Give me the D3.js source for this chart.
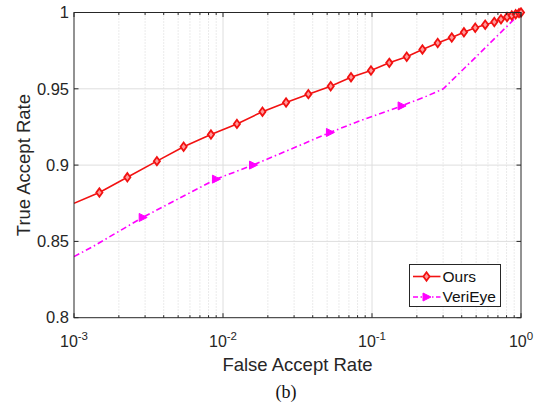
<!DOCTYPE html>
<html>
<head>
<meta charset="utf-8">
<script src="https://cdn.jsdelivr.net/npm/d3@7"></script>
<style>
  body { margin: 0; background: #fff; }
  svg { display: block; font-family: Arial, "Liberation Sans", sans-serif; }
</style>
</head>
<body>
<div id="chart"></div>
<script>
// ROC curves: false accept rate vs. true accept rate
const oursFar = [1e-3, 1.48e-3, 2.28e-3, 3.6e-3, 5.44e-3, 8.3e-3, 1.24e-2, 1.84e-2, 2.65e-2,
  3.74e-2, 5.28e-2, 7.23e-2, 9.84e-2, 0.1306, 0.171, 0.218, 0.276, 0.343, 0.414, 0.493,
  0.575, 0.662, 0.734, 0.806, 0.867, 0.921, 0.97, 1.0]
const oursTar = [0.875, 0.882, 0.892, 0.9026, 0.912, 0.920, 0.927, 0.935, 0.941,
  0.9465, 0.9517, 0.9576, 0.962, 0.967, 0.971, 0.9758, 0.980, 0.9836, 0.987, 0.990,
  0.992, 0.9938, 0.9956, 0.997, 0.998, 0.9989, 0.9996, 1.0]

const veriFar = [1e-3, 1.36e-3, 2.89e-3, 8.97e-3, 1.59e-2, 3.29e-2, 5.22e-2, 8.3e-2, 0.158, 0.233, 0.301, 0.5, 1.0]
const veriTar = [0.840, 0.847, 0.8657, 0.8908, 0.900, 0.913, 0.9214, 0.929, 0.9388, 0.9452, 0.950, 0.971, 1.0]
const veriMarkers = [2, 3, 4, 6, 8]

const xTickExps = [-3, -2, -1, 0]
const yTicks = [0.8, 0.85, 0.9, 0.95, 1]
const yTickLabels = ['0.8', '0.85', '0.9', '0.95', '1']

const W = 540, H = 408
const margin = { left: 74, top: 12.5, right: 19, bottom: 90.3 }
const axisColor = '#262626'
const red = '#f21212', magenta = '#ff00ff'

const svg = d3.select('#chart').append('svg').attr('width', W).attr('height', H)

const x = d3.scaleLog().domain([1e-3, 1]).range([margin.left, W - margin.right])
const y = d3.scaleLinear().domain([0.8, 1]).range([H - margin.bottom, margin.top])
const [x0, x1] = x.range()
const [yb, yt] = y.range()

// grid
const minor = x.ticks().filter(v => !xTickExps.some(e => Math.abs(v - Math.pow(10, e)) < 1e-12))
const grid = svg.append('g')
grid.selectAll('line.minor').data(minor).join('line')
  .attr('x1', d => x(d)).attr('x2', d => x(d)).attr('y1', yt).attr('y2', yb)
  .attr('stroke', '#d6d6d6').attr('stroke-width', 1).attr('stroke-dasharray', '1,2')
grid.selectAll('line.xmaj').data(xTickExps.slice(1, -1)).join('line')
  .attr('x1', d => x(Math.pow(10, d))).attr('x2', d => x(Math.pow(10, d)))
  .attr('y1', yt).attr('y2', yb).attr('stroke', '#dedede')
grid.selectAll('line.ymaj').data(yTicks.slice(1, -1)).join('line')
  .attr('x1', x0).attr('x2', x1).attr('y1', d => y(d)).attr('y2', d => y(d))
  .attr('stroke', '#dedede')

// curves
svg.append('clipPath').attr('id', 'clip').append('rect')
  .attr('x', x0).attr('y', yt - 6).attr('width', x1 - x0 + 6).attr('height', yb - yt + 6)
const plot = svg.append('g').attr('clip-path', 'url(#clip)')

const line = d3.line().x(d => x(d[0])).y(d => y(d[1]))
const ours = oursFar.map((f, i) => [f, oursTar[i]])
const veri = veriFar.map((f, i) => [f, veriTar[i]])

plot.append('path').datum(veri).attr('d', line)
  .attr('fill', 'none').attr('stroke', magenta).attr('stroke-width', 1.6)
  .attr('stroke-dasharray', '6,3,1.5,3')
plot.append('path').datum(ours).attr('d', line)
  .attr('fill', 'none').attr('stroke', red).attr('stroke-width', 1.6)

const diamond = 'M0,-4.2L3.1,0L0,4.2L-3.1,0Z'
const triangle = 'M4.5,0L-3.5,-4L-3.5,4Z'

plot.selectAll('path.ours').data(ours.slice(1)).join('path')
  .attr('d', diamond)
  .attr('transform', d => `translate(${x(d[0])},${y(d[1])})`)
  .attr('fill', '#ff9a9a').attr('stroke', red).attr('stroke-width', 1.8)
plot.selectAll('path.veri').data(veriMarkers.map(i => veri[i])).join('path')
  .attr('d', triangle)
  .attr('transform', d => `translate(${x(d[0])},${y(d[1])})`)
  .attr('fill', magenta).attr('stroke', magenta).attr('stroke-width', 1)

// axes box and ticks
const tk = 4.5
const axes = svg.append('g').attr('stroke', axisColor).attr('stroke-width', 1)
axes.append('rect').attr('x', x0).attr('y', yt).attr('width', x1 - x0).attr('height', yb - yt)
  .attr('fill', 'none')
axes.selectAll('line.xt').data(xTickExps.map(e => Math.pow(10, e))).join('line')
  .attr('x1', d => x(d)).attr('x2', d => x(d)).attr('y1', yb).attr('y2', yb - tk)
axes.selectAll('line.xtt').data(xTickExps.map(e => Math.pow(10, e))).join('line')
  .attr('x1', d => x(d)).attr('x2', d => x(d)).attr('y1', yt).attr('y2', yt + tk)
axes.selectAll('line.xm').data(minor).join('line')
  .attr('x1', d => x(d)).attr('x2', d => x(d)).attr('y1', yb).attr('y2', yb - 2.5)
axes.selectAll('line.xmt').data(minor).join('line')
  .attr('x1', d => x(d)).attr('x2', d => x(d)).attr('y1', yt).attr('y2', yt + 2.5)
axes.selectAll('line.yt').data(yTicks).join('line')
  .attr('x1', x0).attr('x2', x0 + tk).attr('y1', d => y(d)).attr('y2', d => y(d))
axes.selectAll('line.ytr').data(yTicks).join('line')
  .attr('x1', x1).attr('x2', x1 - tk).attr('y1', d => y(d)).attr('y2', d => y(d))

// tick labels
svg.selectAll('text.ytl').data(yTicks).join('text')
  .attr('x', x0 - 5).attr('y', d => y(d)).attr('dy', '0.35em')
  .attr('text-anchor', 'end').attr('font-size', 16.5).attr('fill', axisColor)
  .text((d, i) => yTickLabels[i])

const xl = svg.selectAll('text.xtl').data(xTickExps).join('text')
  .attr('x', d => x(Math.pow(10, d))).attr('y', yb + 29)
  .attr('text-anchor', 'middle').attr('font-size', 16).attr('fill', axisColor)
xl.append('tspan').text('10')
xl.append('tspan').attr('dy', -7).attr('font-size', 11.5).text(d => String(d))

// axis titles
svg.append('text').attr('x', (x0 + x1) / 2).attr('y', yb + 53)
  .attr('text-anchor', 'middle').attr('font-size', 18.5).attr('fill', axisColor)
  .text('False Accept Rate')
svg.append('text').attr('transform', `translate(30,${(yt + yb) / 2}) rotate(-90)`)
  .attr('text-anchor', 'middle').attr('font-size', 18.5).attr('fill', axisColor)
  .text('True Accept Rate')

// legend
const lg = svg.append('g').attr('transform', 'translate(409.5,264.5)')
lg.append('rect').attr('width', 91).attr('height', 42)
  .attr('fill', '#fff').attr('stroke', axisColor).attr('stroke-width', 1)
const entries = [
  { name: 'Ours', color: red, dash: null, marker: diamond, fill: '#ff9a9a', stroke: 1.8 },
  { name: 'VeriEye', color: magenta, dash: '5,2.5,1.5,2.5', marker: triangle, fill: magenta, stroke: 1 }
]
const le = lg.selectAll('g.e').data(entries).join('g')
  .attr('transform', (d, i) => `translate(0,${12 + i * 20.5})`)
le.append('line').attr('x1', 3.5).attr('x2', 31).attr('stroke', d => d.color)
  .attr('stroke-width', 1.6).attr('stroke-dasharray', d => d.dash)
le.append('path').attr('d', d => d.marker).attr('transform', 'translate(17,0)')
  .attr('fill', d => d.fill).attr('stroke', d => d.color).attr('stroke-width', d => d.stroke)
le.append('text').attr('x', 33).attr('dy', '0.35em').attr('font-size', 15.5)
  .attr('fill', '#111').text(d => d.name)

// caption
svg.append('text').attr('x', 286).attr('y', 398).attr('text-anchor', 'middle')
  .attr('font-family', '"Liberation Serif", "Times New Roman", serif').attr('font-size', 18)
  .attr('fill', '#111').text('(b)')
</script>
</body>
</html>
